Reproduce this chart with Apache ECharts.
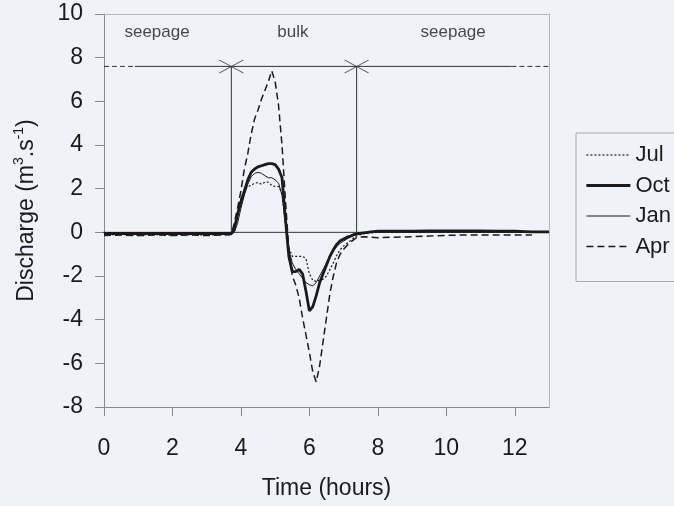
<!DOCTYPE html>
<html>
<head>
<meta charset="utf-8">
<script src="https://cdn.jsdelivr.net/npm/echarts@6/dist/echarts.min.js"></script>
<style>
  html, body { margin: 0; padding: 0; background: #f0f2f9; }
  #chart { width: 674px; height: 506px; }
</style>
</head>
<body>
<div id="chart"></div>
<script>
// Time axis shared by all four monthly discharge records (hours)
const hours = [0, 0.5, 1, 1.5, 2, 2.5, 3, 3.5, 3.72,
  3.8, 3.9, 4.0, 4.1, 4.2, 4.3, 4.4, 4.5, 4.6, 4.7, 4.8, 4.9,
  5.0, 5.1, 5.2, 5.3, 5.4, 5.5, 5.6, 5.7, 5.8, 5.9,
  6.0, 6.1, 6.2, 6.3, 6.4, 6.5, 6.6, 6.7, 6.8, 6.9,
  7.0, 7.1, 7.2, 7.3, 7.4, 7.6, 7.8, 8.0,
  8.5, 9, 9.5, 10, 10.5, 11, 11.5, 12, 12.5, 13];

// Discharge (m3/s) per month
const jul = [-0.12, -0.1, -0.12, -0.1, -0.12, -0.1, -0.12, -0.1, -0.12,
  0.2, 0.9, 1.55, 1.9, 2.1, 2.15, 2.25, 2.28, 2.2, 2.3, 2.3, 2.15,
  2.1, 2.1, 1.8, 0.4, -0.7, -1.1, -1.1, -1.1, -1.1, -1.2,
  -1.9, -2.2, -2.25, -2.2, -2.15, -2.0, -1.7, -1.4, -1.05, -0.8,
  -0.62, -0.5, -0.38, -0.25, -0.15, -0.05, -0.02, 0,
  0, 0, 0, 0, 0, 0, 0, 0, 0, 0];

const oct = [-0.05, -0.05, -0.05, -0.05, -0.05, -0.05, -0.05, -0.05, -0.05,
  0.1, 0.8, 1.4, 1.9, 2.4, 2.75, 2.9, 3.0, 3.05, 3.1, 3.15, 3.15,
  3.1, 2.9, 2.5, 0.6, -1.1, -1.8, -1.8, -1.7, -1.9, -2.7,
  -3.6, -3.4, -2.9, -2.3, -1.9, -1.5, -1.1, -0.8, -0.55, -0.38,
  -0.3, -0.22, -0.17, -0.1, -0.06, -0.02, 0.02, 0.05,
  0.05, 0.05, 0.06, 0.06, 0.06, 0.06, 0.05, 0.05, 0.02, 0.02];

const jan = [-0.1, -0.1, -0.1, -0.1, -0.1, -0.1, -0.1, -0.1, -0.1,
  0.0, 0.4, 1.1, 1.7, 2.2, 2.55, 2.7, 2.75, 2.7, 2.6, 2.5, 2.5,
  2.4, 2.25, 1.7, 0.5, -0.8, -1.4, -1.7, -1.9, -2.1, -2.3,
  -2.4, -2.45, -2.3, -2.0, -1.7, -1.4, -1.1, -0.85, -0.65, -0.5,
  -0.4, -0.3, -0.22, -0.15, -0.1, -0.03, 0, 0.02,
  0.02, 0.02, 0.02, 0.02, 0.02, 0.02, 0.02, 0.02, 0.02, 0.02];

const apr = [-0.15, -0.12, -0.15, -0.12, -0.15, -0.12, -0.15, -0.12, -0.1,
  0.4, 1.1, 1.9, 2.9, 3.6, 4.5, 5.2, 5.6, 6.1, 6.5, 6.9, 7.4,
  6.9, 5.8, 4.0, 1.5, -0.8, -2.0, -2.4, -3.0, -3.9, -4.7,
  -5.5, -6.4, -6.85, -6.1, -5.0, -3.9, -2.8, -2.0, -1.35, -1.0,
  -0.78, -0.6, -0.45, -0.33, -0.22, -0.2, -0.22, -0.25,
  -0.22, -0.2, -0.17, -0.14, -0.12, -0.12, -0.12, -0.12, -0.12, null];

const xTicks = [0, 2, 4, 6, 8, 10, 12];

// Phase frame: bulk flow window and reference level
const bulkStart = 3.72;
const bulkEnd = 7.38;
const frameLevel = 7.6;
const frameSolidFrom = 0.9;
const frameSolidTo = 11.9;

const phaseLabels = ['seepage', 'bulk', 'seepage'];
const phaseLabelX = [1.55, 5.52, 10.2];
const phaseLabelY = 9.15;

const FONT = 'Liberation Sans, Arial, Helvetica, sans-serif';
const INK = '#1a1a1a';

// line look per month: [name, values, width, dash]
const monthStyles = [
  ['Jul', jul, 1.2, [2, 2]],
  ['Oct', oct, 2.8, 'solid'],
  ['Jan', jan, 1, 'solid'],
  ['Apr', apr, 1.5, [7, 4]]
];

function pairs(vals) {
  return hours.map((t, i) => [t, vals[i]]);
}

function frameLine(points, type) {
  return {
    type: 'line', data: points, symbol: 'none', silent: true,
    lineStyle: { color: '#333', width: 1, type: type || 'solid' },
    z: 1
  };
}

function monthLine(m) {
  return {
    name: m[0], type: 'line', data: pairs(m[1]), symbol: 'none', connectNulls: false,
    itemStyle: { color: INK },
    lineStyle: { color: INK, width: m[2], type: m[3] },
    z: 4
  };
}

const chart = echarts.init(document.getElementById('chart'), null, { renderer: 'canvas' });

chart.setOption({
  backgroundColor: '#f0f2f9',
  animation: false,
  textStyle: { fontFamily: FONT, color: INK },
  grid: { left: 104, right: 125, top: 14, bottom: 99 },
  legend: {
    data: monthStyles.map(m => ({
      name: m[0],
      lineStyle: { color: INK, width: m[2], type: m[3] }
    })),
    orient: 'vertical',
    left: 576, top: 133,
    padding: [11, 10, 24, 9],
    itemWidth: 44, itemHeight: 14, itemGap: 8.5,
    borderColor: '#aaa', borderWidth: 1,
    backgroundColor: '#f0f2f9',
    itemStyle: { opacity: 0 },
    textStyle: { fontSize: 22, color: INK, lineHeight: 22, fontFamily: FONT }
  },
  xAxis: [{
    type: 'value', min: 0, max: 13,
    position: 'bottom',
    name: 'Time (hours)', nameLocation: 'middle', nameGap: 70,
    nameTextStyle: { fontSize: 23, color: INK, fontFamily: FONT },
    axisLine: { show: true, onZero: false, lineStyle: { color: '#888', width: 1 } },
    axisTick: { show: true, length: 9, customValues: xTicks, lineStyle: { color: '#888' } },
    axisLabel: { customValues: xTicks, fontSize: 23, margin: 30, color: INK },
    splitLine: { show: false }
  }, {
    type: 'value', min: 0, max: 13, position: 'top',
    axisLine: { show: true, onZero: false, lineStyle: { color: '#aaa', type: 'dotted' } },
    axisTick: { show: false }, axisLabel: { show: false }, splitLine: { show: false }
  }],
  yAxis: [{
    type: 'value', min: -8, max: 10, interval: 2,
    position: 'left',
    name: 'Discharge (m{sup|3}.s{sup|-1})', nameLocation: 'middle', nameGap: 62,
    nameTextStyle: {
      fontSize: 23, color: INK, fontFamily: FONT, lineHeight: 30,
      rich: { sup: { fontSize: 14, verticalAlign: 'top', lineHeight: 30, color: INK, fontFamily: FONT } }
    },
    axisLine: { show: true, onZero: false, lineStyle: { color: '#888', width: 1 } },
    axisTick: { show: true, length: 9, lineStyle: { color: '#888' } },
    axisLabel: { fontSize: 23, margin: 21, color: INK },
    splitLine: { show: false }
  }, {
    type: 'value', min: -8, max: 10, interval: 2, position: 'right',
    axisLine: { show: true, onZero: false, lineStyle: { color: '#aaa', type: 'dotted' } },
    axisTick: { show: false }, axisLabel: { show: false }, splitLine: { show: false }
  }],
  series: [
    // zero reference and bulk-window frame
    frameLine([[-0.2, 0], [13, 0]]),
    frameLine([[0, frameLevel], [frameSolidFrom, frameLevel]], [5, 3]),
    frameLine([[frameSolidFrom, frameLevel], [frameSolidTo, frameLevel]]),
    frameLine([[frameSolidTo, frameLevel], [13, frameLevel]], [5, 3]),
    frameLine([[bulkStart, 0], [bulkStart, frameLevel]]),
    frameLine([[bulkEnd, 0], [bulkEnd, frameLevel]]),
    {
      type: 'scatter', silent: true,
      data: [[bulkStart, frameLevel], [bulkEnd, frameLevel]],
      symbol: 'path://M0 0L24 13M24 0L0 13',
      symbolSize: [24, 13],
      itemStyle: { color: 'none', borderColor: '#333', borderWidth: 1 },
      z: 3
    },
    {
      type: 'scatter', silent: true,
      data: phaseLabelX.map((x, i) => ({ value: [x, phaseLabelY], name: phaseLabels[i] })),
      symbolSize: 0,
      label: { show: true, position: 'inside', formatter: '{b}', fontSize: 17, color: INK, fontFamily: FONT }
    }
  ].concat(monthStyles.map(monthLine))
});
</script>
</body>
</html>
